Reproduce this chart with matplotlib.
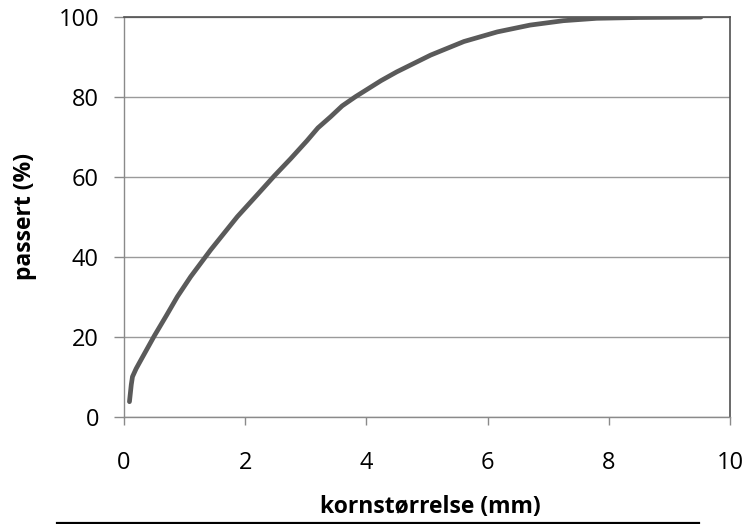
import matplotlib
matplotlib.use("Agg")
import matplotlib.pyplot as plt
from matplotlib.lines import Line2D

grain_size_mm = [0.09, 0.12, 0.14, 0.2, 0.28, 0.5, 0.7, 0.88, 1.1, 1.43, 1.87,
                 2.2, 2.48, 2.75, 3.02, 3.2, 3.41, 3.6, 3.82, 4.24, 4.5, 5.06,
                 5.61, 6.16, 6.7, 7.25, 7.8, 8.5, 9.52]
passed_pct = [3.75, 8, 10, 12, 14.2, 20.2, 25.3, 30, 35, 41.7, 50,
              55.5, 60.2, 64.5, 69, 72.2, 75, 77.7, 80, 84, 86.2, 90.4,
              93.8, 96.2, 97.9, 99, 99.6, 99.8, 99.9]
x_ticks = [0, 2, 4, 6, 8, 10]
y_ticks = [0, 20, 40, 60, 80, 100]
x_label = "kornstørrelse (mm)"
y_label = "passert (%)"

W, H = 746, 524
fig = plt.figure(figsize=(W / 100, H / 100), dpi=100)
plt.rcParams['font.family'] = ['Open Sans', 'DejaVu Sans']

left, right, top, bottom = 124, 730, 16.7, 416.7
ax = fig.add_axes([left / W, (H - bottom) / H, (right - left) / W, (bottom - top) / H])

ax.plot(grain_size_mm, passed_pct, color="#5a5a5a", lw=3.4,
        solid_capstyle="round", solid_joinstyle="round", zorder=3)

ax.set_xlim(0, 10)
ax.set_ylim(0, 100)
ax.set_xticks(x_ticks)
ax.set_yticks(y_ticks)
ax.set_xticklabels([str(t) for t in x_ticks])
ax.set_yticklabels([str(t) for t in y_ticks])

ax.grid(axis="y", color="#9a9a9a", lw=1.0)
ax.set_axisbelow(True)

for s in ["left", "bottom"]:
    ax.spines[s].set_color("#8a8a8a")
    ax.spines[s].set_linewidth(1.0)
for s in ["top", "right"]:
    ax.spines[s].set_color("#505050")
    ax.spines[s].set_linewidth(1.2)

ax.tick_params(axis="y", direction="out", length=7, width=1.0, color="#8a8a8a",
               pad=11, labelsize=17, labelcolor="#000000")
ax.tick_params(axis="x", direction="out", length=6, width=1.0, color="#8a8a8a",
               pad=19, labelsize=17, labelcolor="#000000")

fig.text(25 / W, 1 - 217 / H, y_label, rotation=90, ha="center", va="center",
         fontsize=16.5, fontweight="bold")
fig.text(430 / W, 1 - 507 / H, x_label, ha="center", va="center",
         fontsize=16.5, fontweight="bold")

fig.add_artist(Line2D([57 / W, 698 / W], [1 - 523 / H, 1 - 523 / H],
                      transform=fig.transFigure, color="black", lw=2.3))

fig.savefig("out.png", dpi=100)
